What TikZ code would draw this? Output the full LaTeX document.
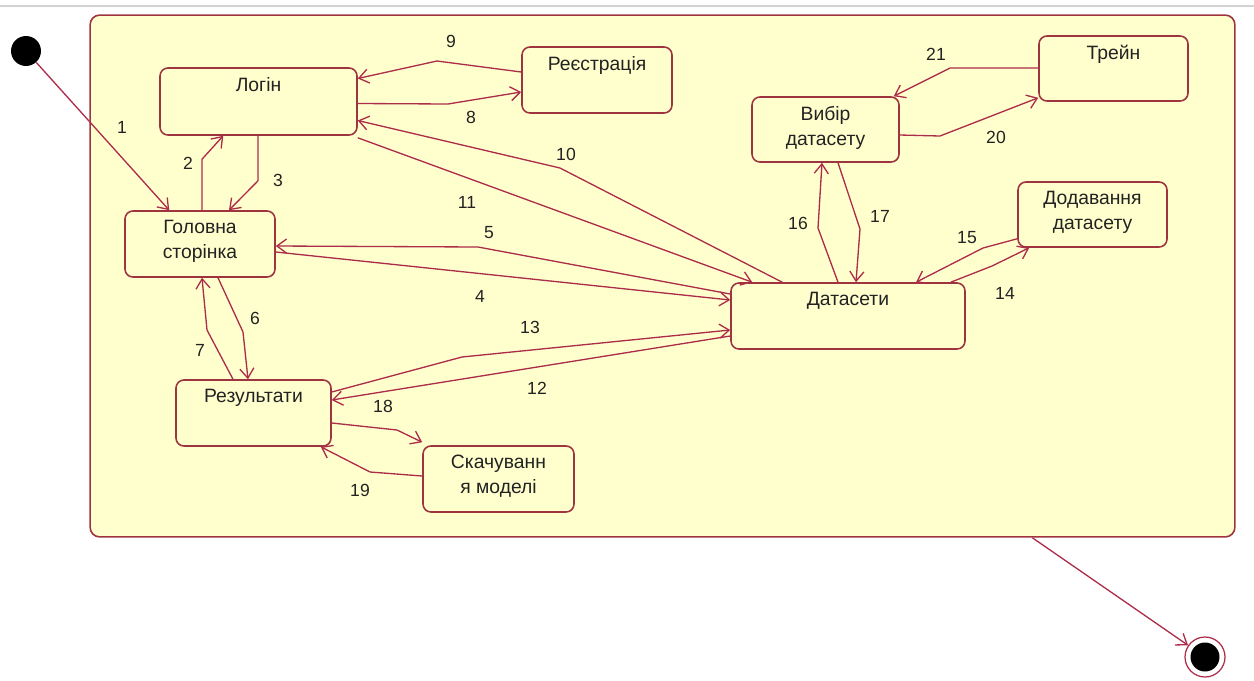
\documentclass[tikz,border=0pt]{standalone}
\usepackage{fontspec}
\setmainfont{Liberation Sans}
\usetikzlibrary{arrows.meta,calc}
\definecolor{lncol}{RGB}{172,44,74}
\definecolor{bxcol}{RGB}{158,52,64}
\definecolor{bgfill}{RGB}{255,255,206}
\definecolor{txt}{RGB}{34,34,34}
\begin{document}
\begin{tikzpicture}[x=0.02cm,y=-0.02cm,
  font=\fontsize{10}{14}\selectfont,
  outerbox/.style={draw=bxcol, line width=0.9pt, fill=bgfill, rounded corners=5.5pt, inner sep=0pt},
  stbox/.style={draw=bxcol, line width=0.9pt, fill=bgfill, rounded corners=4.5pt, inner sep=0pt},
  sttext/.style={anchor=north, inner sep=0pt, align=center, text=txt, yshift=-5.5pt,
    font=\fontsize{11}{14.2}\selectfont},
  tr/.style={draw=lncol, line width=0.75pt, -{Straight Barb[length=5.5pt,width=8pt]}},
  num/.style={text=txt, inner sep=0pt}]
\useasboundingbox (0,0) rectangle (1254,680);

% thin rule along the top edge
\draw[gray!35, line width=0.6pt] (0,6) -- (1254,6);

% enclosing composite state
\node[outerbox, minimum width=22.9cm, minimum height=10.44cm] (outer) at (662.5,276) {};

% pseudo-states
\node[circle, fill=black, minimum size=0.6cm, inner sep=0pt] (init) at (26,51) {};
\node[circle, draw=lncol, fill=white, line width=0.7pt, minimum size=0.8cm, inner sep=0pt] (final) at (1205,657) {};
\node[circle, fill=black, minimum size=0.58cm, inner sep=0pt] (finaldot) at (final) {};

% states
\node[stbox, minimum width=3.94cm, minimum height=1.34cm, label={[sttext]north:Логін}] (login) at (258.5,101.5) {};
\node[stbox, minimum width=3.0cm, minimum height=1.32cm, label={[sttext]north:Головна\\сторінка}] (home) at (200,244) {};
\node[stbox, minimum width=3.0cm, minimum height=1.32cm, label={[sttext]north:Реєстрація}] (reg) at (597,80) {};
\node[stbox, minimum width=2.94cm, minimum height=1.3cm, label={[sttext]north:Вибір\\датасету}] (choose) at (825.5,129.5) {};
\node[stbox, minimum width=2.98cm, minimum height=1.3cm, label={[sttext]north:Трейн}] (train) at (1113.5,68.5) {};
\node[stbox, minimum width=2.98cm, minimum height=1.3cm, label={[sttext]north:Додавання\\датасету}] (add) at (1092.5,214.5) {};
\node[stbox, minimum width=4.68cm, minimum height=1.32cm, label={[sttext]north:Датасети}] (data) at (848,316) {};
\node[stbox, minimum width=3.1cm, minimum height=1.32cm, label={[sttext]north:Результати}] (res) at (253.5,413) {};
\node[stbox, minimum width=3.02cm, minimum height=1.32cm, label={[sttext]north:Скачуванн\\я моделі}] (down) at (498.5,479) {};

% transitions
\draw[tr] (init) -- ($(home.north west)+(45,0)$);
\draw[tr] ($(home.north)+(2,0)$) -- ++(0,-51) -- ($(login.south west)+(64,0)$);
\draw[tr] ($(login.south)+(-0.5,0)$) -- ++(0,45) -- ($(home.north)+(29,0)$);
\draw[tr] ($(home.east)+(0,8)$) -- ($(data.west)+(0,-16)$);
\draw[tr] ($(data.west)+(0,-22)$) -- (478,247) -- ($(home.east)+(0,2)$);
\draw[tr] ($(home.south)+(18,0)$) -- (243,332) -- ($(res.north)+(-5.5,0)$);
\draw[tr] ($(res.north)+(-20.5,0)$) -- (207,330) -- ($(home.south)+(2,0)$);
\draw[tr] ($(login.east)+(0,2)$) -- (448,104) -- ($(reg.west)+(0,12)$);
\draw[tr] ($(reg.west)+(0,-8)$) -- (437,61) -- ($(login.east)+(0,-23)$);
\draw[tr] ($(data.north west)+(52,0)$) -- (560,168) -- ($(login.east)+(0,19)$);
\draw[tr] ($(login.south east)+(0,2)$) -- ($(data.north west)+(22,0)$);
\draw[tr] ($(data.west)+(0,20)$) -- ($(res.east)+(0,-13)$);
\draw[tr] ($(res.east)+(0,-21)$) -- (462,357) -- ($(data.west)+(0,14)$);
\draw[tr] ($(data.north east)+(-15,0)$) -- (992,266) -- ($(add.south west)+(12,0)$);
\draw[tr] ($(add.south west)+(0,-9)$) -- (983,248) -- ($(data.north)+(68,0)$);
\draw[tr] ($(data.north)+(-10,0)$) -- (818,228) -- ($(choose.south)+(-3.5,0)$);
\draw[tr] ($(choose.south)+(12.5,0)$) -- (860,229) -- ($(data.north)+(8,0)$);
\draw[tr] ($(res.east)+(0,10)$) -- (397,430) -- ($(down.north west)+(0,-3)$);
\draw[tr] ($(down.west)+(0,-3)$) -- (370,472) -- ($(res.south east)+(-11,0)$);
\draw[tr] ($(choose.east)+(0,5.5)$) -- (940,136) -- ($(train.south west)+(0,-4)$);
\draw[tr] ($(train.west)+(0,-0.5)$) -- (950,68) -- ($(choose.north east)+(-6,0)$);
\draw[tr] ($(outer.south west)+(943,0)$) -- (final);

% transition numbers
\node[num] (l1) at (122,127) {1};
\node[num] (l2) at (188,163) {2};
\node[num] (l3) at (278,180) {3};
\node[num] (l4) at (480,296) {4};
\node[num] (l5) at (489,233) {5};
\node[num] (l6) at (255,318) {6};
\node[num] (l7) at (200,350) {7};
\node[num] (l8) at (471,117) {8};
\node[num] (l9) at (451,41) {9};
\node[num] (l10) at (566,154) {10};
\node[num] (l11) at (467,202) {11};
\node[num] (l12) at (537,388) {12};
\node[num] (l13) at (530,327) {13};
\node[num] (l14) at (1005,293) {14};
\node[num] (l15) at (967,238) {15};
\node[num] (l16) at (798,223) {16};
\node[num] (l17) at (880,216) {17};
\node[num] (l18) at (383,406) {18};
\node[num] (l19) at (360,490) {19};
\node[num] (l20) at (996,137) {20};
\node[num] (l21) at (936,54) {21};
\end{tikzpicture}
\end{document}
